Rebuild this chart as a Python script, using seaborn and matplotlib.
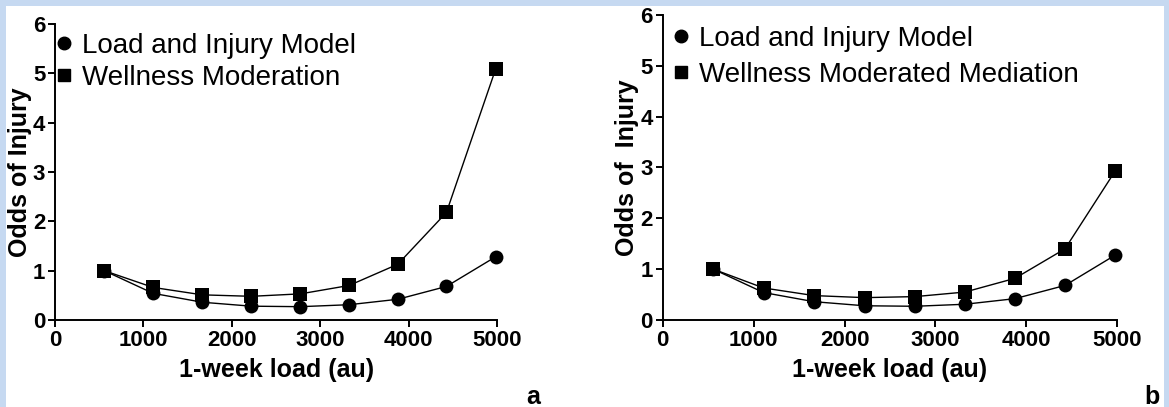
import numpy as np
import pandas as pd
import matplotlib
matplotlib.use("Agg")
import matplotlib.pyplot as plt
from matplotlib.lines import Line2D
from matplotlib.patches import Rectangle
import seaborn as sns

# Data
load = [556, 1110, 1665, 2220, 2775, 3325, 3875, 4425, 4980]
load_injury = [1.0, 0.54, 0.36, 0.28, 0.27, 0.31, 0.42, 0.68, 1.28]
wellness_moderation = [1.0, 0.66, 0.51, 0.48, 0.53, 0.70, 1.13, 2.18, 5.08]
wellness_mediation = [1.0, 0.63, 0.48, 0.44, 0.46, 0.55, 0.82, 1.40, 2.94]

label_base = "Load and Injury Model"
label_a = "Wellness Moderation"
label_b = "Wellness Moderated Mediation"

sns.set_style("ticks")
plt.rcParams['font.family'] = ['Liberation Sans', 'DejaVu Sans']
plt.rcParams['text.color'] = 'black'
plt.rcParams['axes.labelcolor'] = 'black'
plt.rcParams['xtick.color'] = 'black'
plt.rcParams['ytick.color'] = 'black'

fig = plt.figure(figsize=(11.69, 4.07), dpi=100)
fig.patch.set_facecolor('#c6d9f1')
fig.patches.append(Rectangle((6 / 1169, 0), 1158 / 1169, 401 / 407,
                             transform=fig.transFigure, facecolor='white',
                             edgecolor='none', zorder=-10))

ax_a = fig.add_axes([55 / 1169, 1 - 320 / 407, 442.3 / 1169, 296 / 407])
ax_b = fig.add_axes([662.7 / 1169, 1 - 320 / 407, 454.6 / 1169, 305 / 407])


def draw(ax, other, other_label, ylabel, leg_anchor, leg_space):
    df = pd.DataFrame({
        'load': load + load,
        'odds': load_injury + other,
        'series': [label_base] * len(load) + [other_label] * len(load),
    })
    sns.lineplot(data=df, x='load', y='odds', style='series',
                 markers={label_base: 'o', other_label: 's'},
                 dashes=False, color='black', linewidth=1,
                 markersize=10, markeredgewidth=0, ax=ax, legend=False)
    ax.set_facecolor('none')
    ax.set_xlim(0, 5000)
    ax.set_ylim(0, 6)
    ax.set_xticks(range(0, 5001, 1000))
    ax.set_yticks(range(0, 7))
    ax.set_xlabel('1-week load (au)', fontsize=18, fontweight='bold', labelpad=5)
    ax.set_ylabel(ylabel, fontsize=18, fontweight='bold', labelpad=1)
    ax.tick_params(axis='both', direction='out', length=5, width=1.4,
                   labelsize=16, pad=2, color='black')
    for t in ax.get_xticklabels() + ax.get_yticklabels():
        t.set_fontweight('bold')
    for side in ['left', 'bottom']:
        ax.spines[side].set_linewidth(1.4)
        ax.spines[side].set_color('black')
    sns.despine(ax=ax)
    for ln in ax.lines:
        ln.set_clip_on(False)
    handles = [Line2D([], [], marker='o', ls='', color='black', ms=9),
               Line2D([], [], marker='s', ls='', color='black', ms=9)]
    ax.legend(handles, [label_base, other_label], loc='upper left',
              bbox_to_anchor=leg_anchor, frameon=False, fontsize=20,
              handlelength=0.6, handletextpad=0.35, borderaxespad=0,
              labelspacing=leg_space)


draw(ax_a, wellness_moderation, label_a, 'Odds of Injury', (-0.023, 1.007), 0.22)
draw(ax_b, wellness_mediation, label_b, 'Odds of  Injury', (-0.003, 1.0), 0.36)

fig.text(533 / 1169, 1 - 397 / 407, 'a', fontsize=18, fontweight='bold',
         ha='center', va='center')
fig.text(1152 / 1169, 1 - 397 / 407, 'b', fontsize=18, fontweight='bold',
         ha='center', va='center')

fig.savefig('out.png', dpi=100, facecolor=fig.get_facecolor())
